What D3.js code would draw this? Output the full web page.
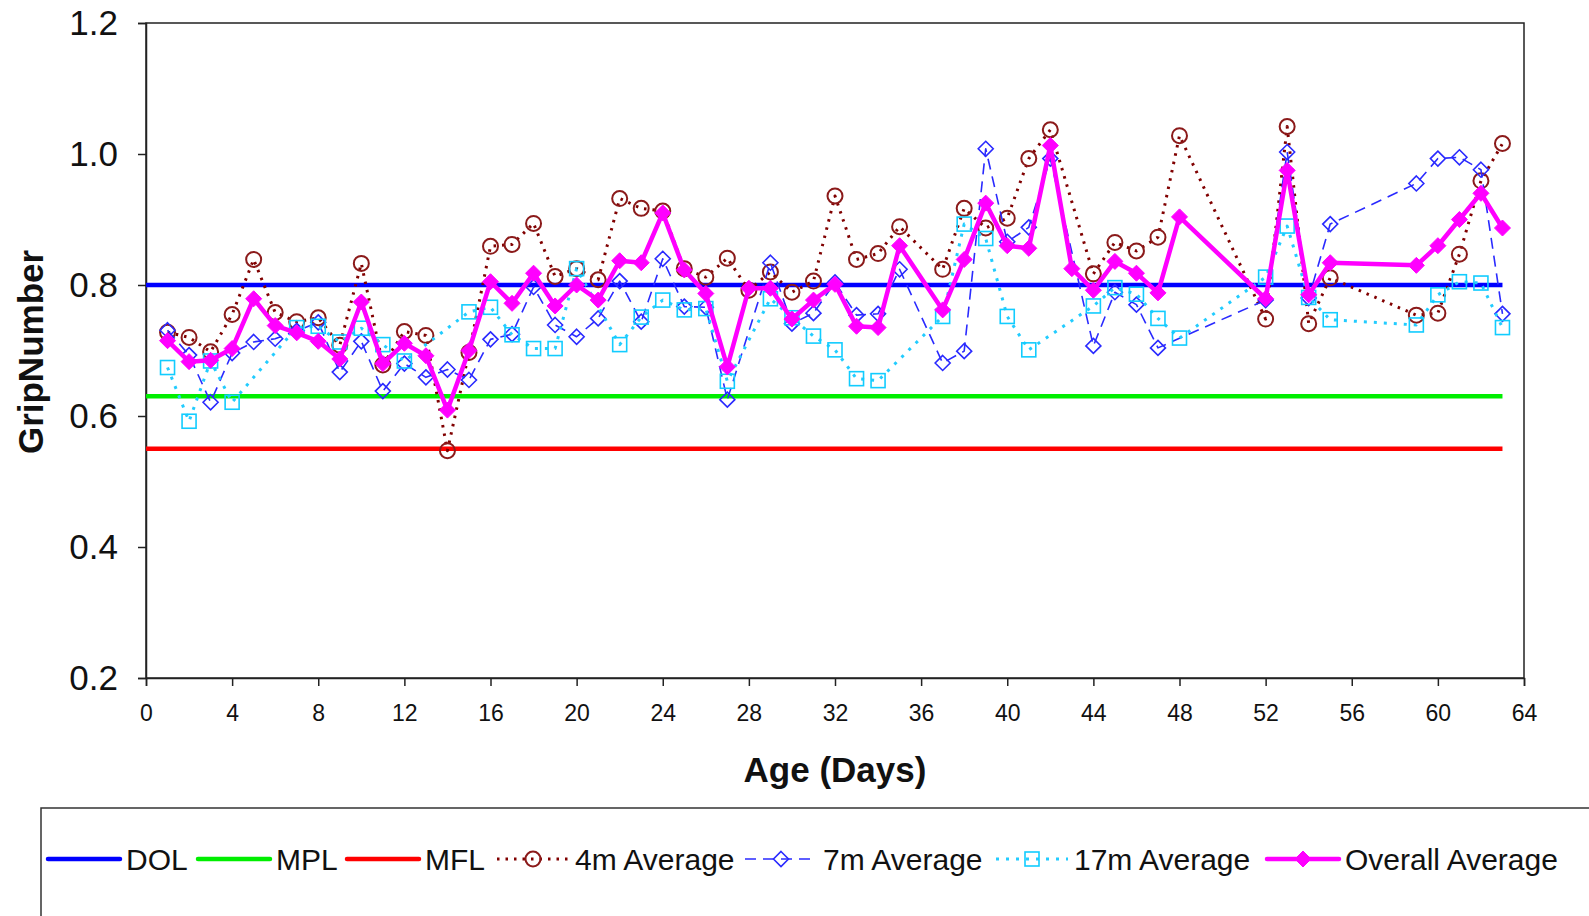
<!DOCTYPE html>
<html><head><meta charset="utf-8">
<script src="https://cdn.jsdelivr.net/npm/d3@7"></script>
<style>body{margin:0;background:#fff;} text{font-family:"Liberation Sans",Arial,sans-serif;}</style>
</head><body>
<svg id="c" width="1589" height="916"></svg>
<script>
// ---- data ----
const yTicks = [0.2, 0.4, 0.6, 0.8, 1.0, 1.2];
const xTicks = [0,4,8,12,16,20,24,28,32,36,40,44,48,52,56,60,64];
const refNames = ["DOL","MPL","MFL"];
const refValues = [0.80, 0.63, 0.55];

const days4m = [1,2,3,4,5,6,7,8,9,10,11,12,13,14,15,16,17,18,19,20,21,22,23,24,25,26,27,28,29,30,31,32,33,34,35,37,38,39,40,41,42,44,45,46,47,48,52,53,54,55,59,60,61,62,63];
const vals4m = [0.728,0.720,0.698,0.755,0.839,0.758,0.744,0.750,0.708,0.833,0.678,0.729,0.723,0.547,0.697,0.859,0.862,0.894,0.813,0.825,0.808,0.932,0.917,0.913,0.825,0.812,0.841,0.792,0.820,0.789,0.806,0.936,0.839,0.848,0.889,0.824,0.917,0.887,0.902,0.993,1.037,0.817,0.865,0.852,0.873,1.028,0.748,1.042,0.741,0.811,0.754,0.757,0.847,0.959,1.016];

const days7m = [1,2,3,4,5,6,7,8,9,10,11,12,13,14,15,16,17,18,19,20,21,22,23,24,25,26,27,29,30,31,32,33,34,35,37,38,39,40,41,42,44,45,46,47,52,53,54,55,59,60,61,62,63];
const vals7m = [0.731,0.693,0.621,0.696,0.713,0.718,0.730,0.743,0.667,0.714,0.638,0.680,0.659,0.671,0.655,0.717,0.725,0.797,0.739,0.721,0.749,0.806,0.744,0.840,0.767,0.766,0.625,0.834,0.741,0.757,0.804,0.754,0.756,0.824,0.681,0.699,1.008,0.866,0.888,0.993,0.707,0.789,0.770,0.704,0.777,1.003,0.780,0.893,0.955,0.993,0.995,0.976,0.756];

const days17m = [1,2,3,4,7,8,9,10,11,12,15,16,17,18,19,20,22,23,24,25,26,27,29,30,31,32,33,34,37,38,39,40,41,44,45,46,47,48,52,53,54,55,59,60,61,62,63];
const vals17m = [0.674,0.592,0.684,0.621,0.735,0.737,0.713,0.734,0.709,0.684,0.759,0.766,0.724,0.703,0.703,0.825,0.709,0.751,0.777,0.762,0.764,0.653,0.779,0.750,0.722,0.701,0.657,0.654,0.752,0.893,0.871,0.752,0.701,0.768,0.796,0.786,0.749,0.719,0.812,0.890,0.781,0.747,0.739,0.785,0.805,0.803,0.735];

const daysAll = [1,2,3,4,5,6,7,8,9,10,11,12,13,14,15,16,17,18,19,20,21,22,23,24,25,26,27,28,29,30,31,32,33,34,35,37,38,39,40,41,42,43,44,45,46,47,48,52,53,54,55,59,60,61,62,63];
const valsAll = [0.715,0.683,0.685,0.703,0.779,0.738,0.727,0.714,0.687,0.774,0.680,0.711,0.692,0.609,0.700,0.805,0.772,0.818,0.768,0.800,0.777,0.837,0.834,0.910,0.823,0.787,0.675,0.795,0.795,0.748,0.777,0.801,0.737,0.735,0.860,0.762,0.839,0.925,0.860,0.856,1.013,0.825,0.792,0.836,0.818,0.788,0.904,0.779,0.975,0.785,0.834,0.830,0.860,0.900,0.940,0.887];

const refEnd = 63;

// ---- drawing ----
const svg = d3.select("#c");
const x = d3.scaleLinear().domain([0,64]).range([146,1524]);
const y = d3.scaleLinear().domain([0.2,1.2]).range([678,23]);

// frame
svg.append("rect").attr("x",146).attr("y",23).attr("width",1378).attr("height",655)
  .attr("fill","none").attr("stroke","#222").attr("stroke-width",1.5);

// axes
const yAxis = d3.axisLeft(y).tickValues(yTicks).tickFormat(d3.format(".1f")).tickSize(8).tickPadding(20);
const gy = svg.append("g").attr("transform","translate(146,0)").call(yAxis);
gy.selectAll("text").attr("font-size",35).attr("fill","#111").attr("font-family","Liberation Sans, Arial");
gy.selectAll("line,path").attr("stroke","#222").attr("stroke-width",1.5);

const xAxis = d3.axisBottom(x).tickValues(xTicks).tickFormat(d3.format("d")).tickSize(8).tickPadding(19);
const gx = svg.append("g").attr("transform","translate(0,678)").call(xAxis);
gx.selectAll("text").attr("font-size",23).attr("fill","#111").attr("font-family","Liberation Sans, Arial");
gx.selectAll("line,path").attr("stroke","#222").attr("stroke-width",1.5);

svg.append("text").attr("x",835).attr("y",782).attr("text-anchor","middle")
  .attr("font-size",35).attr("font-weight","bold").attr("fill","#111").text("Age (Days)");
svg.append("text").attr("transform","translate(43,352) rotate(-90)").attr("text-anchor","middle")
  .attr("font-size",35).attr("font-weight","bold").attr("fill","#111").text("GripNumber");

// reference lines
const refColors = ["#0000ff","#00ee00","#ff0000"];
refValues.forEach((v,i)=>{
  svg.append("line").attr("x1",x(0)).attr("x2",x(refEnd)).attr("y1",y(v)).attr("y2",y(v))
    .attr("stroke",refColors[i]).attr("stroke-width",4.5);
});

const line = d3.line().x(d=>x(d[0])).y(d=>y(d[1]));
const zip = (a,b)=>a.map((d,i)=>[d,b[i]]);

const series = [
  {name:"4m Average", data:zip(days4m,vals4m), color:"#800000", mcolor:"#8b1a1a", width:3, dash:"2.5,6", marker:"circle"},
  {name:"7m Average", data:zip(days7m,vals7m), color:"#2a2aff", mcolor:"#2a2aff", width:1.6, dash:"11,7", marker:"diamond"},
  {name:"17m Average", data:zip(days17m,vals17m), color:"#22ccff", mcolor:"#11ccff", width:3, dash:"3,7", marker:"square"},
  {name:"Overall Average", data:zip(daysAll,valsAll), color:"#ff00ff", mcolor:"#ff00ff", width:4.5, dash:null, marker:"fdiamond"}
];

function drawMarker(g, type, cx, cy, col){
  if(type==="circle"){
    g.append("circle").attr("cx",cx).attr("cy",cy).attr("r",7.5).attr("fill","none").attr("stroke",col).attr("stroke-width",2);
  } else if(type==="diamond"){
    g.append("path").attr("d",`M${cx},${cy-7.5}L${cx+7.5},${cy}L${cx},${cy+7.5}L${cx-7.5},${cy}Z`).attr("fill","none").attr("stroke",col).attr("stroke-width",1.6);
  } else if(type==="square"){
    g.append("rect").attr("x",cx-7).attr("y",cy-7).attr("width",14).attr("height",14).attr("fill","none").attr("stroke",col).attr("stroke-width",1.6);
  } else {
    g.append("path").attr("d",`M${cx},${cy-8}L${cx+8},${cy}L${cx},${cy+8}L${cx-8},${cy}Z`).attr("fill",col).attr("stroke",col).attr("stroke-width",1);
  }
}

series.forEach(s=>{
  const g = svg.append("g");
  g.append("path").attr("d",line(s.data)).attr("fill","none").attr("stroke",s.color)
    .attr("stroke-width",s.width).attr("stroke-dasharray",s.dash).attr("stroke-linejoin","round");
  s.data.forEach(d=>drawMarker(g,s.marker,x(d[0]),y(d[1]),s.mcolor));
});

// legend
svg.append("rect").attr("x",41).attr("y",808).attr("width",1600).attr("height",130)
  .attr("fill","none").attr("stroke","#333").attr("stroke-width",1.5);
const ly = 859;
const legendX = [48,198,347,497,745,996,1267];
const items = [
  {name:"DOL", color:refColors[0], width:4.5, dash:null, marker:null},
  {name:"MPL", color:refColors[1], width:4.5, dash:null, marker:null},
  {name:"MFL", color:refColors[2], width:4.5, dash:null, marker:null},
  ...series.map(s=>({name:s.name,color:s.color,mcolor:s.mcolor,width:s.width,dash:s.dash,marker:s.marker}))
];
const lg = svg.append("g");
items.forEach((it,i)=>{
  const x0 = legendX[i];
  lg.append("line").attr("x1",x0).attr("x2",x0+72).attr("y1",ly).attr("y2",ly)
    .attr("stroke",it.color).attr("stroke-width",it.width).attr("stroke-dasharray",it.dash)
    .attr("stroke-linecap", it.dash?"butt":"round");
  if(it.marker){
    drawMarker(lg,it.marker,x0+36,ly,it.mcolor);
  }
  lg.append("text").attr("x",x0+78).attr("y",ly+11).attr("font-size",30).attr("fill","#111").text(it.name);
});
</script>
</body></html>
